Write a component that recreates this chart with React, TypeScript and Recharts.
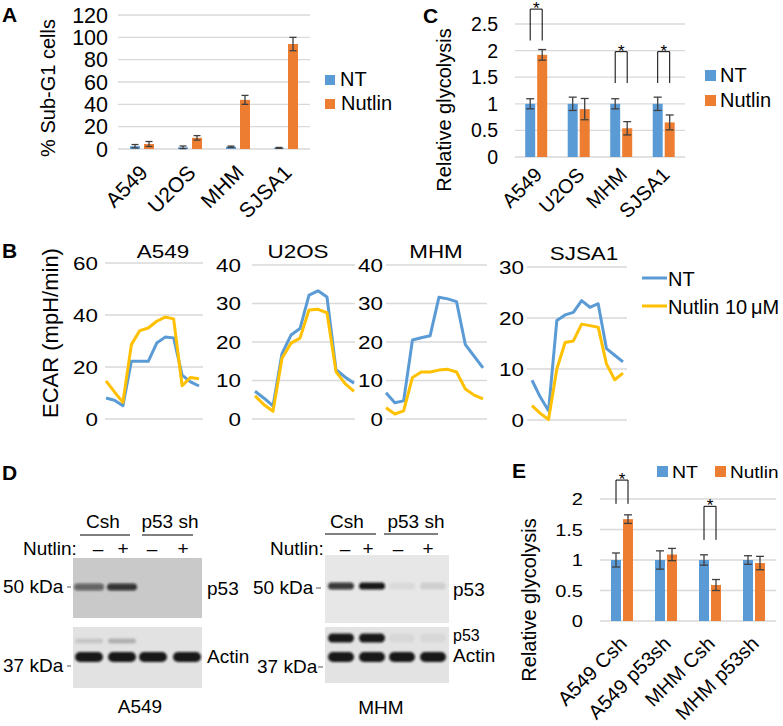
import { Bar, BarChart, CartesianGrid, ErrorBar, Line, LineChart, XAxis, YAxis } from "recharts";

const BLUE = "#5B9BD5";
const ORANGE = "#ED7D31";
const GOLD = "#FFC000";
const GRID = "#D9D9D9";
const WHISKER = "#404040";
const FONT = "'Liberation Sans', Arial, Helvetica, sans-serif";

// A: sub-G1 fraction
const CELL_LINES = ["A549", "U2OS", "MHM", "SJSA1"];
const SUBG1_NT = [2.5, 1.5, 2, 1];
const SUBG1_NT_ERR = [1.5, 1.2, 0.6, 0.4];
const SUBG1_NUTLIN = [4.5, 10, 44, 94];
const SUBG1_NUTLIN_ERR = [2.2, 2, 4, 6];
const SUBG1_TICKS = [0, 20, 40, 60, 80, 100, 120];

// C: relative glycolysis per line
const GLYCO_NT = [1, 1, 1, 1];
const GLYCO_NT_ERR = [0.095, 0.125, 0.095, 0.125];
const GLYCO_NUTLIN = [1.92, 0.9, 0.54, 0.65];
const GLYCO_NUTLIN_ERR = [0.1, 0.2, 0.125, 0.14];
const GLYCO_SIG_TOP = [2.78, null, 1.98, 1.98];
const GLYCO_SIG_LEG = [2.19, null, 1.39, 1.39];
const GLYCO_TICKS = [0, 0.5, 1, 1.5, 2, 2.5];

// B: ECAR traces, 12 measurements each
const ECAR_A549_NT = [8.1, 7.2, 5.1, 22.2, 22.2, 22.2, 29.2, 31.5, 31.2, 16.9, 14.3, 12.7];
const ECAR_A549_NUTLIN = [14.7, 10.4, 6.4, 28.6, 34, 35, 37.6, 39.2, 38.5, 12.8, 16, 15.5];
const ECAR_U2OS_NT = [7.2, 5.4, 3.4, 17, 21.8, 23.5, 32.2, 33.3, 31.7, 12.8, 10.9, 9.3];
const ECAR_U2OS_NUTLIN = [6, 3.7, 2, 15.8, 19.7, 21, 28.3, 28.5, 27.6, 12.3, 9.2, 7.2];
const ECAR_MHM_NT = [6.8, 4.2, 4.7, 20.5, 21.1, 21.6, 31.6, 31.2, 30.5, 19.3, 16.3, 13.3];
const ECAR_MHM_NUTLIN = [2.9, 1.3, 2.1, 10.8, 12.2, 12.2, 12.7, 12.9, 12.2, 7.8, 6.2, 5.2];
const ECAR_SJSA1_NT = [7.8, 4.5, 1.8, 19.5, 20.6, 21.1, 23.4, 22.1, 22.8, 14, 12.7, 11.4];
const ECAR_SJSA1_NUTLIN = [2.8, 1.3, 0.1, 10, 15.2, 15.5, 18.8, 18.5, 18.2, 11, 7.9, 9.2];

// E: knockdown glycolysis
const KD_GROUPS = ["A549 Csh", "A549 p53sh", "MHM Csh", "MHM p53sh"];
const KD_NT = [1, 1, 1, 1];
const KD_NT_ERR = [0.115, 0.15, 0.085, 0.07];
const KD_NUTLIN = [1.67, 1.09, 0.59, 0.95];
const KD_NUTLIN_ERR = [0.07, 0.1, 0.09, 0.11];
const KD_SIG_TOP = [2.31, null, 1.88, null];
const KD_SIG_LEG = [1.92, null, 1.33, null];
const KD_TICKS = [0, 0.5, 1, 1.5, 2];

// D: blot band strength per lane (0 = none)
const A549_P53 = [0.55, 0.8, 0, 0];
const A549_FAINT = [0.12, 0.22, 0, 0];
const A549_ACTIN = [0.95, 0.95, 0.95, 0.95];
const MHM_P53 = [0.8, 0.95, 0.06, 0.1];
const MHM_P53_LOWER = [0.95, 0.95, 0.05, 0.05];
const MHM_ACTIN = [0.95, 0.95, 0.95, 0.95];

type Row = {
  name: string;
  nt: number;
  ntErr: number;
  nutlin: number;
  nutlinErr: number;
  sigTop: number | null;
  sigLeg: number | null;
};

function buildRows(
  names: string[],
  nt: number[],
  ntErr: number[],
  nutlin: number[],
  nutlinErr: number[],
  sigTop: (number | null)[] = [],
  sigLeg: (number | null)[] = [],
): Row[] {
  return names.map((name, i) => ({
    name,
    nt: nt[i],
    ntErr: ntErr[i],
    nutlin: nutlin[i],
    nutlinErr: nutlinErr[i],
    sigTop: sigTop[i] ?? null,
    sigLeg: sigLeg[i] ?? null,
  }));
}

function ValueTick({ x, y, payload, size, sx = 1 }: any) {
  return (
    <text transform={`translate(${x},${y}) scale(${sx},1)`} textAnchor="end" dy="0.36em" fontSize={size} fill="#000">
      {payload.value}
    </text>
  );
}

function SlantTick({ x, y, payload, size, dx, dy }: any) {
  return (
    <text transform={`translate(${x + dx},${y + dy}) rotate(-45)`} textAnchor="end" fontSize={size} fill="#000">
      {payload.value}
    </text>
  );
}

function BarPanel(props: any) {
  const {
    left, top, width, height, marginTop, marginRight, yWidth, xHeight, rows, max, ticks,
    tickFont, tickScale = 1, tickGap, gap, catGap, labelFont, labelDx, labelDy, cap,
  } = props;

  // nutlin bar also carries the significance bracket, measured from the bar's own scale
  const nutlinShape = (p: any) => {
    const { x, y, width: w, height: h, payload } = p;
    const rect = <rect x={x} y={y} width={w} height={h} fill={ORANGE} />;
    if (payload.sigTop == null || !h) return rect;
    const perUnit = h / payload.nutlin;
    const base = y + h;
    const yTop = base - payload.sigTop * perUnit;
    const yLeg = base - payload.sigLeg * perUnit;
    const xR = x + w / 2;
    const xL = x - gap - w / 2;
    return (
      <g>
        {rect}
        <path d={`M${xL},${yLeg}V${yTop}H${xR}V${yLeg}`} fill="none" stroke="#000" strokeWidth={1} />
        <text x={(xL + xR) / 2} y={yTop + 5} textAnchor="middle" fontSize={17} fill="#000">*</text>
      </g>
    );
  };

  return (
    <div style={{ position: "absolute", left, top }}>
      <BarChart
        width={width}
        height={height}
        data={rows}
        margin={{ top: marginTop, right: marginRight, left: 0, bottom: 0 }}
        barGap={gap}
        barCategoryGap={catGap}
      >
        <CartesianGrid vertical={false} stroke={GRID} strokeWidth={1.3} />
        <XAxis
          dataKey="name"
          height={xHeight}
          axisLine={false}
          tickLine={false}
          tickSize={0}
          tickMargin={0}
          interval={0}
          tick={(p: any) => <SlantTick {...p} size={labelFont} dx={labelDx} dy={labelDy} />}
        />
        <YAxis
          width={yWidth}
          domain={[0, max]}
          ticks={ticks}
          axisLine={false}
          tickLine={false}
          tickSize={0}
          tickMargin={tickGap}
          interval={0}
          tick={(p: any) => <ValueTick {...p} size={tickFont} sx={tickScale} />}
        />
        <Bar dataKey="nt" fill={BLUE} isAnimationActive={false}>
          <ErrorBar dataKey="ntErr" direction="y" width={cap} stroke={WHISKER} strokeWidth={1.3} />
        </Bar>
        <Bar dataKey="nutlin" fill={ORANGE} isAnimationActive={false} shape={nutlinShape}>
          <ErrorBar dataKey="nutlinErr" direction="y" width={cap} stroke={WHISKER} strokeWidth={1.3} />
        </Bar>
      </BarChart>
    </div>
  );
}

function EcarPanel(props: any) {
  const { left, top, width, height, yWidth, mTop, mRight, mBottom, nt, nutlin, max, ticks, padL, padR, tickGap } = props;
  const rows = nt.map((v: number, i: number) => ({ t: i + 1, nt: v, nutlin: nutlin[i] }));
  return (
    <div style={{ position: "absolute", left, top }}>
      <LineChart width={width} height={height} data={rows} margin={{ top: mTop, right: mRight, bottom: mBottom, left: 0 }}>
        <CartesianGrid vertical={false} stroke={GRID} strokeWidth={1.3} />
        <XAxis dataKey="t" hide padding={{ left: padL, right: padR }} />
        <YAxis
          width={yWidth}
          domain={[0, max]}
          ticks={ticks}
          axisLine={false}
          tickLine={false}
          tickSize={0}
          tickMargin={tickGap}
          interval={0}
          tick={(p: any) => <ValueTick {...p} size={19} sx={1.18} />}
        />
        <Line dataKey="nt" stroke={BLUE} strokeWidth={3} dot={false} strokeLinejoin="round" isAnimationActive={false} />
        <Line dataKey="nutlin" stroke={GOLD} strokeWidth={3} dot={false} strokeLinejoin="round" isAnimationActive={false} />
      </LineChart>
    </div>
  );
}

function Band({ cx, cy, w, h, shade }: { cx: number; cy: number; w: number; h: number; shade: number }) {
  if (!shade) return null;
  return (
    <rect x={cx - w / 2} y={cy - h / 2} width={w} height={h} rx={h / 2} fill={`rgba(15,15,15,${shade})`} filter="url(#soft)" />
  );
}

function Blots() {
  const a549Lanes = [89, 122, 153, 187];
  const mhmLanes = [341, 372, 402, 433];
  return (
    <g>
      {/* A549 */}
      <rect x={73} y={558} width={129} height={60} fill="#c9c9c9" />
      {a549Lanes.map((c, i) => (
        <Band key={`ap${i}`} cx={c} cy={587} w={30} h={7} shade={A549_P53[i]} />
      ))}
      <rect x={73} y={627} width={129} height={61} fill="#e2e2e2" />
      {a549Lanes.map((c, i) => (
        <Band key={`af${i}`} cx={c} cy={641} w={28} h={5} shade={A549_FAINT[i]} />
      ))}
      {a549Lanes.map((c, i) => (
        <Band key={`aa${i}`} cx={c} cy={657} w={28} h={10} shade={A549_ACTIN[i]} />
      ))}
      {/* MHM */}
      <rect x={325} y={555} width={124} height={68} fill="#e7e7e7" />
      {mhmLanes.map((c, i) => (
        <Band key={`mp${i}`} cx={c} cy={586} w={26} h={7} shade={MHM_P53[i]} />
      ))}
      <rect x={325} y={627} width={124} height={56} fill="#e3e3e3" />
      {mhmLanes.map((c, i) => (
        <Band key={`ml${i}`} cx={c} cy={638} w={26} h={9} shade={MHM_P53_LOWER[i]} />
      ))}
      {mhmLanes.map((c, i) => (
        <Band key={`ma${i}`} cx={c} cy={657} w={26} h={10} shade={MHM_ACTIN[i]} />
      ))}

      <g fontSize={19} fill="#000">
        <text x={103} y={528} textAnchor="middle">Csh</text>
        <text x={170} y={528} textAnchor="middle">p53 sh</text>
        <line x1={80} x2={130} y1={535} y2={535} stroke="#000" />
        <line x1={142} x2={193} y1={535} y2={535} stroke="#000" />
        <text x={23} y={555}>Nutlin:</text>
        <text x={98} y={555} textAnchor="middle">–</text>
        <text x={123} y={555} textAnchor="middle">+</text>
        <text x={152} y={555} textAnchor="middle">–</text>
        <text x={183} y={555} textAnchor="middle">+</text>
        <text x={3} y={593}>50 kDa</text>
        <line x1={67} x2={71} y1={587} y2={587} stroke="#555" />
        <text x={3} y={672}>37 kDa</text>
        <line x1={67} x2={71} y1={666} y2={666} stroke="#555" />
        <text x={207} y={595}>p53</text>
        <text x={207} y={663}>Actin</text>
        <text x={140} y={713} textAnchor="middle">A549</text>

        <text x={347} y={528} textAnchor="middle">Csh</text>
        <text x={416} y={528} textAnchor="middle">p53 sh</text>
        <line x1={325} x2={376} y1={534} y2={534} stroke="#000" />
        <line x1={384} x2={438} y1={534} y2={534} stroke="#000" />
        <text x={270} y={555}>Nutlin:</text>
        <text x={345} y={555} textAnchor="middle">–</text>
        <text x={368} y={555} textAnchor="middle">+</text>
        <text x={398} y={555} textAnchor="middle">–</text>
        <text x={428} y={555} textAnchor="middle">+</text>
        <text x={253} y={594}>50 kDa</text>
        <line x1={316} x2={321} y1={588} y2={588} stroke="#555" />
        <text x={257} y={673}>37 kDa</text>
        <line x1={318} x2={323} y1={667} y2={667} stroke="#555" />
        <text x={453} y={596}>p53</text>
        <text x={453} y={641} fontSize={16}>p53</text>
        <text x={453} y={662}>Actin</text>
        <text x={381} y={714} textAnchor="middle">MHM</text>
      </g>
    </g>
  );
}

function Overlay() {
  return (
    <svg
      width={783}
      height={726}
      style={{ position: "absolute", left: 0, top: 0, pointerEvents: "none" }}
      fontFamily={FONT}
    >
      <defs>
        <filter id="soft" x="-50%" y="-150%" width="200%" height="400%">
          <feGaussianBlur stdDeviation="1.1" />
        </filter>
      </defs>

      <g fontSize={21} fontWeight="bold" fill="#000">
        <text x={2} y={22}>A</text>
        <text x={423} y={23}>C</text>
        <text x={2} y={258}>B</text>
        <text x={2} y={480}>D</text>
        <text x={512} y={478}>E</text>
      </g>

      <g fill="#000">
        <text transform="translate(55,88) rotate(-90)" textAnchor="middle" fontSize={20}>% Sub-G1 cells</text>
        <text transform="translate(451,110) rotate(-90)" textAnchor="middle" fontSize={20}>Relative glycolysis</text>
        <text transform="translate(58,333) rotate(-90)" textAnchor="middle" fontSize={22}>ECAR (mpH/min)</text>
        <text transform="translate(536,600) rotate(-90)" textAnchor="middle" fontSize={20}>Relative glycolysis</text>
      </g>

      {/* legends */}
      <rect x={325} y={75} width={10} height={10} fill={BLUE} />
      <text x={340} y={86} fontSize={20}>NT</text>
      <rect x={325} y={99} width={10} height={10} fill={ORANGE} />
      <text x={341} y={110} fontSize={20}>Nutlin</text>

      <rect x={705} y={70} width={11} height={11} fill={BLUE} />
      <text x={720} y={82} fontSize={20}>NT</text>
      <rect x={705} y={95} width={11} height={11} fill={ORANGE} />
      <text x={720} y={107} fontSize={20}>Nutlin</text>

      <line x1={642} x2={667} y1={278} y2={278} stroke={BLUE} strokeWidth={3} />
      <text x={668} y={286} fontSize={20}>NT</text>
      <line x1={642} x2={667} y1={306} y2={306} stroke={GOLD} strokeWidth={3} />
      <text x={668} y={314} fontSize={20}>
        Nutlin
        <tspan x={725}>10</tspan>
        <tspan x={751}>μM</tspan>
      </text>

      <rect x={657} y={466} width={11} height={11} fill={BLUE} />
      <text transform="translate(672,478) scale(1.15,1)" fontSize={17}>NT</text>
      <rect x={715} y={466} width={11} height={11} fill={ORANGE} />
      <text transform="translate(730,478) scale(1.12,1)" fontSize={17}>Nutlin</text>

      {/* ECAR panel titles */}
      <g fontSize={19} fill="#000" textAnchor="middle">
        <text transform="translate(163,258) scale(1.18,1)">A549</text>
        <text transform="translate(298,258) scale(1.18,1)">U2OS</text>
        <text transform="translate(436,258) scale(1.18,1)">MHM</text>
        <text transform="translate(584,260) scale(1.18,1)">SJSA1</text>
      </g>

      <Blots />
    </svg>
  );
}

export default function App() {
  const subG1Rows = buildRows(CELL_LINES, SUBG1_NT, SUBG1_NT_ERR, SUBG1_NUTLIN, SUBG1_NUTLIN_ERR);
  const glycoRows = buildRows(CELL_LINES, GLYCO_NT, GLYCO_NT_ERR, GLYCO_NUTLIN, GLYCO_NUTLIN_ERR, GLYCO_SIG_TOP, GLYCO_SIG_LEG);
  const kdRows = buildRows(KD_GROUPS, KD_NT, KD_NT_ERR, KD_NUTLIN, KD_NUTLIN_ERR, KD_SIG_TOP, KD_SIG_LEG);

  return (
    <div
      style={{
        position: "absolute",
        left: 0,
        top: 0,
        width: 783,
        height: 726,
        background: "#fff",
        fontFamily: FONT,
        overflow: "hidden",
      }}
    >
      <BarPanel
        left={0} top={0} width={315} height={235} marginTop={15} marginRight={5}
        yWidth={118} xHeight={86} rows={subG1Rows} max={120} ticks={SUBG1_TICKS}
        tickFont={21.5} tickGap={10} gap={4} catGap="25%" labelFont={21} labelDx={7} labelDy={25} cap={3.5}
      />
      <BarPanel
        left={390} top={0} width={300} height={240} marginTop={24} marginRight={5}
        yWidth={125} xHeight={83} rows={glycoRows} max={2.5} ticks={GLYCO_TICKS}
        tickFont={19.5} tickGap={17} gap={2} catGap="24%" labelFont={20} labelDx={7} labelDy={19} cap={4}
      />
      <BarPanel
        left={520} top={455} width={262} height={271} marginTop={44} marginRight={6}
        yWidth={80} xHeight={105} rows={kdRows} max={2} ticks={KD_TICKS}
        tickFont={17} tickScale={1.18} tickGap={17} gap={2} catGap="25%" labelFont={20} labelDx={6} labelDy={24} cap={4}
      />

      <EcarPanel
        left={45} top={240} width={165} height={200} yWidth={60} mTop={23} mRight={7} mBottom={21}
        nt={ECAR_A549_NT} nutlin={ECAR_A549_NUTLIN} max={60} ticks={[0, 20, 40, 60]} padL={1} padR={4} tickGap={7}
      />
      <EcarPanel
        left={210} top={240} width={150} height={200} yWidth={42} mTop={25} mRight={5} mBottom={21}
        nt={ECAR_U2OS_NT} nutlin={ECAR_U2OS_NUTLIN} max={40} ticks={[0, 10, 20, 30, 40]} padL={3} padR={1} tickGap={11}
      />
      <EcarPanel
        left={345} top={240} width={145} height={200} yWidth={41} mTop={25} mRight={3} mBottom={21}
        nt={ECAR_MHM_NT} nutlin={ECAR_MHM_NUTLIN} max={40} ticks={[0, 10, 20, 30, 40]} padL={0} padR={4} tickGap={3}
      />
      <EcarPanel
        left={490} top={240} width={140} height={200} yWidth={37} mTop={27} mRight={3} mBottom={20}
        nt={ECAR_SJSA1_NT} nutlin={ECAR_SJSA1_NUTLIN} max={30} ticks={[0, 10, 20, 30]} padL={5} padR={4} tickGap={3}
      />

      <Overlay />
    </div>
  );
}
